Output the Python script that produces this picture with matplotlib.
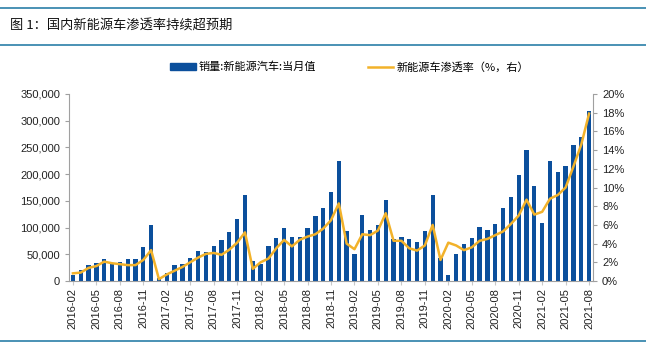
import matplotlib.pyplot as plt
import numpy as np
from matplotlib.lines import Line2D
from matplotlib.patches import Patch
from matplotlib.ticker import FuncFormatter, MultipleLocator

plt.rcParams['font.family'] = ['Liberation Sans', 'Noto Sans CJK SC', 'DejaVu Sans']

# monthly data 2016-02 .. 2021-08
months = [f"{y}-{m:02d}" for y in range(2016, 2022) for m in range(1, 13)]
months = months[1:months.index("2021-08") + 1]

sales = [11000, 21000, 30000, 34000, 41000, 32000, 36000, 41000, 41000, 64000, 104000,
         5500, 15600, 30000, 32000, 43000, 57000, 54000, 66000, 77000, 91000, 116000, 161000,
         37500, 32500, 66000, 81000, 100000, 83000, 83000, 100000, 121000, 137500, 167500, 224000,
         94000, 51000, 124000, 96000, 104000, 151000, 78000, 83000, 79000, 73000, 94000, 161000,
         43000, 11000, 51000, 69000, 81000, 102000, 96000, 107000, 137500, 157500, 199000, 246000,
         178000, 108000, 224000, 204000, 216000, 254000, 269000, 319000]

penetration = [0.82, 0.9, 1.4, 1.6, 2.07, 1.9, 1.8, 1.7, 1.7, 2.25, 3.3,
               0.2, 0.7, 1.1, 1.5, 2.0, 2.5, 2.9, 3.0, 2.8, 3.35, 4.1, 5.2,
               1.3, 2.0, 2.4, 3.5, 4.4, 3.7, 4.4, 4.75, 5.0, 5.6, 6.5, 8.3,
               4.0, 3.4, 5.0, 4.9, 5.4, 7.25, 4.3, 4.3, 3.5, 3.25, 3.8, 6.0,
               2.25, 4.1, 3.8, 3.3, 3.6, 4.3, 4.5, 4.9, 5.3, 6.1, 7.0, 8.7,
               7.1, 7.4, 8.8, 9.2, 10.0, 12.25, 14.6, 17.9]

bar_color = '#0b4f9c'
line_color = '#f2b22a'
rule_color = '#2a7fa8'

fig = plt.figure(figsize=(6.46, 3.47), dpi=100)
ax = fig.add_axes([69 / 646, 1 - 281 / 347, 524 / 646, 187 / 347])
x = np.arange(len(months))

ax.bar(x, sales, width=0.55, color=bar_color, zorder=2)
ax.set_xlim(-0.5, len(months) - 0.5)
ax.set_ylim(0, 350000)
ax.yaxis.set_major_locator(MultipleLocator(50000))
ax.yaxis.set_major_formatter(FuncFormatter(lambda v, p: f"{int(v):,}"))

ax2 = ax.twinx()
ax2.plot(x, penetration, color=line_color, lw=1.8, zorder=3)
ax2.set_ylim(0, 20)
ax2.yaxis.set_major_locator(MultipleLocator(2))
ax2.yaxis.set_major_formatter(FuncFormatter(lambda v, p: f"{int(v)}%"))

tick_idx = x[::3]
ax.set_xticks(tick_idx)
ax.set_xticklabels([months[i] for i in tick_idx], rotation=90, fontsize=8, color='#222222')

for a in (ax, ax2):
    a.spines['top'].set_visible(False)
    for s in ('left', 'right', 'bottom'):
        a.spines[s].set_color('#a0a0a0')
        a.spines[s].set_linewidth(0.8)
    a.tick_params(axis='y', labelsize=8, colors='#222222', length=3, width=0.8)
    a.tick_params(axis='y', color='#a0a0a0')
ax.tick_params(axis='x', length=3, width=0.8, color='#c8c8c8', pad=2)
ax.spines['right'].set_visible(False)
ax2.spines['left'].set_visible(False)
ax2.spines['bottom'].set_visible(False)

handles = [Patch(color=bar_color), Line2D([0], [0], color=line_color, lw=1.8)]
labels = ['销量:新能源汽车:当月值', '新能源车渗透率（%，右）']
fig.legend(handles, labels, loc='center', bbox_to_anchor=(0.541, 1 - 67 / 347), ncol=2,
           frameon=False, columnspacing=4.6, handlelength=2.3, handleheight=0.6,
           handletextpad=0.3, prop={'family': ['Noto Sans CJK SC'], 'size': 8})

fig.text(10 / 646, 1 - 26 / 347, '图 1：国内新能源车渗透率持续超预期', fontsize=9.5,
         family=['Noto Sans CJK SC'], va='center', color='#111111')
for yy in (8, 45, 341):
    fig.add_artist(Line2D([0, 1], [1 - yy / 347] * 2, color=rule_color, lw=1.2))

fig.savefig('out.png', dpi=100)
